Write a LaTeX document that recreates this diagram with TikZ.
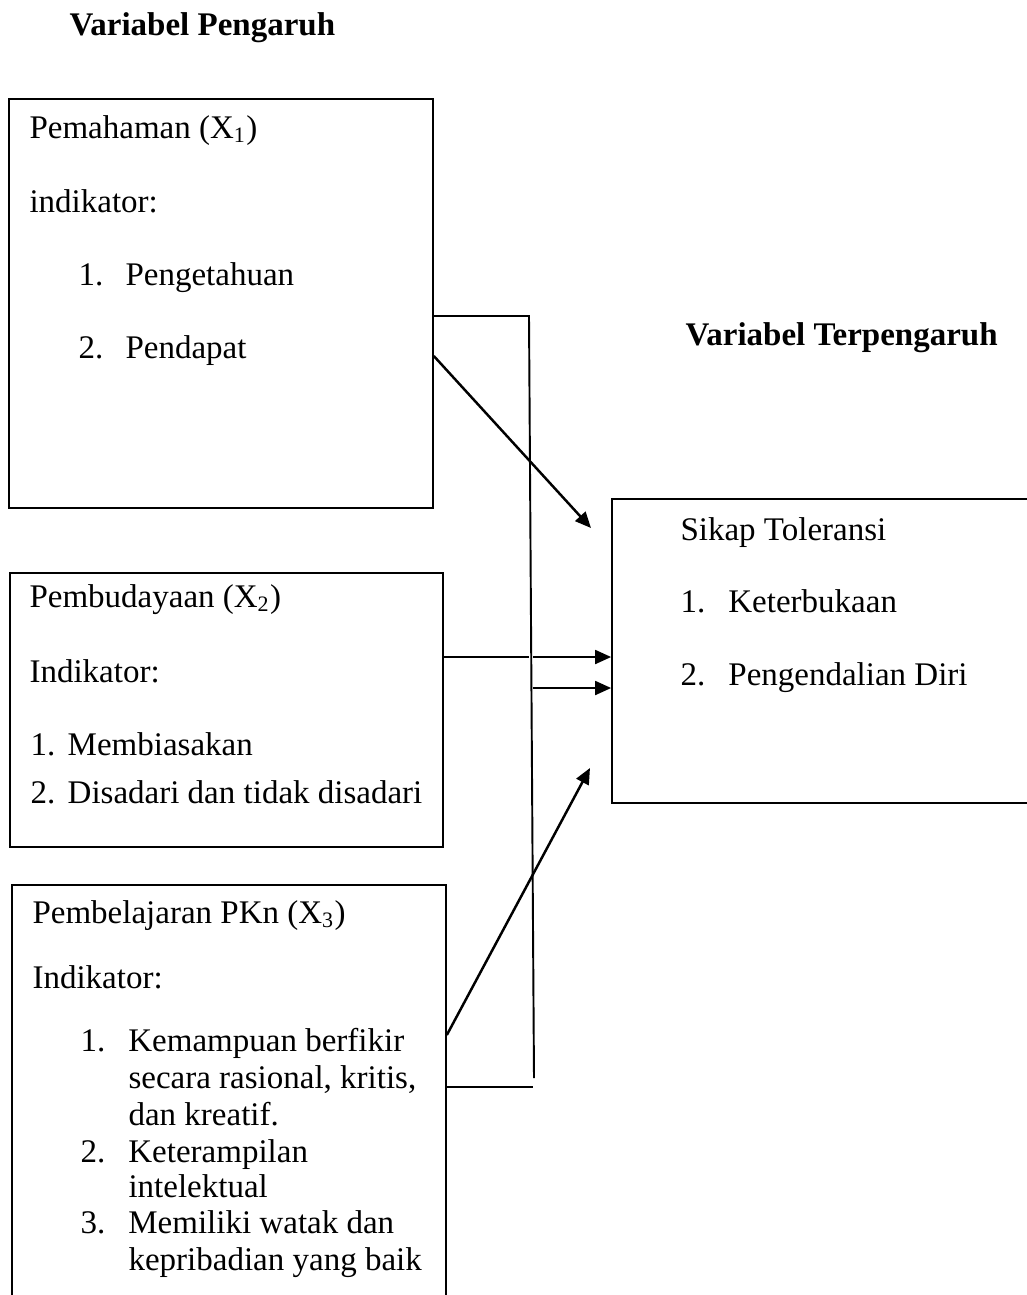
\documentclass[tikz,border=0pt]{standalone}
\usepackage{fontspec}
\setmainfont{Liberation Serif}
\usetikzlibrary{arrows.meta, fit}

\begin{document}
\begin{tikzpicture}[
    x=0.3636pt, y=-0.3636pt,
    font=\fontsize{12}{14}\selectfont,
    varbox/.style={rectangle, draw=black, line width=0.6pt, inner sep=0pt},
    txt/.style={anchor=base west, inner sep=0pt},
    head/.style={anchor=base west, inner sep=0pt, font=\fontsize{12}{14}\selectfont\bfseries},
    link/.style={line width=0.7pt},
    arrow/.style={-{Triangle[length=5.8pt, width=5pt]}, line width=0.9pt}
]
\useasboundingbox (0,0) rectangle (1027,1295);

\node[head] (judulx) at (69,35) {Variabel Pengaruh};
\node[head] (juduly) at (685,345) {Variabel Terpengaruh};

% X1
\node[varbox, fit={(9,99) (433,508)}] (pemahaman) {};
\node[txt] (x1a) at (29,138) {Pemahaman (X\textsubscript{1})};
\node[txt] (x1b) at (29,212) {indikator:};
\node[txt] (x1c) at (78,285) {\makebox[17.1pt][l]{1.}Pengetahuan};
\node[txt] (x1d) at (78,358) {\makebox[17.1pt][l]{2.}Pendapat};

% X2
\node[varbox, fit={(10,573) (443,847)}] (pembudayaan) {};
\node[txt] (x2a) at (29,607) {Pembudayaan (X\textsubscript{2})};
\node[txt] (x2b) at (29,682) {Indikator:};
\node[txt] (x2c) at (30,755) {\makebox[13.5pt][l]{1.}Membiasakan};
\node[txt] (x2d) at (30,803) {\makebox[13.5pt][l]{2.}Disadari dan tidak disadari};

% X3
\node[varbox, fit={(12,885) (446,1310)}] (pembelajaran) {};
\node[txt] (x3a) at (32,923) {Pembelajaran PKn (X\textsubscript{3})};
\node[txt] (x3b) at (32,988) {Indikator:};
\node[txt] (x3c) at (80,1051) {\makebox[17.4pt][l]{1.}Kemampuan berfikir};
\node[txt] (x3d) at (128,1088) {secara rasional, kritis,};
\node[txt] (x3e) at (128,1125) {dan kreatif.};
\node[txt] (x3f) at (80,1162) {\makebox[17.4pt][l]{2.}Keterampilan};
\node[txt] (x3g) at (128,1197) {intelektual};
\node[txt] (x3h) at (80,1233) {\makebox[17.4pt][l]{3.}Memiliki watak dan};
\node[txt] (x3i) at (128,1270) {kepribadian yang baik};

% Y
\node[varbox, fit={(612,499) (1040,803)}] (sikap) {};
\node[txt] (ya) at (680,540) {Sikap Toleransi};
\node[txt] (yb) at (680,612) {\makebox[17.4pt][l]{1.}Keterbukaan};
\node[txt] (yc) at (680,685) {\makebox[17.4pt][l]{2.}Pengendalian Diri};

\coordinate (bartop) at (529,316);
\coordinate (barbot) at (534,1078);
\coordinate (barkaki) at (533,1087);
\coordinate (barx2) at (529,657);
\coordinate (pangkal1) at (533,657);
\coordinate (pangkal2) at (533,688);
\coordinate (ujung1) at (591,528);
\coordinate (ujung2) at (590,768);

\draw[link] (pemahaman.east |- bartop) -- (bartop) -- (barbot);
\draw[link] (pembelajaran.east |- barkaki) -- (barkaki);
\draw[link] (pembudayaan.east |- barx2) -- (barx2);

\draw[arrow] (pemahaman.east |- 0,356) -- (ujung1);
\draw[arrow] (pangkal1) -- (sikap.west |- pangkal1);
\draw[arrow] (pangkal2) -- (sikap.west |- pangkal2);
\draw[arrow] (pembelajaran.east |- 0,1035) -- (ujung2);

\end{tikzpicture}
\end{document}
